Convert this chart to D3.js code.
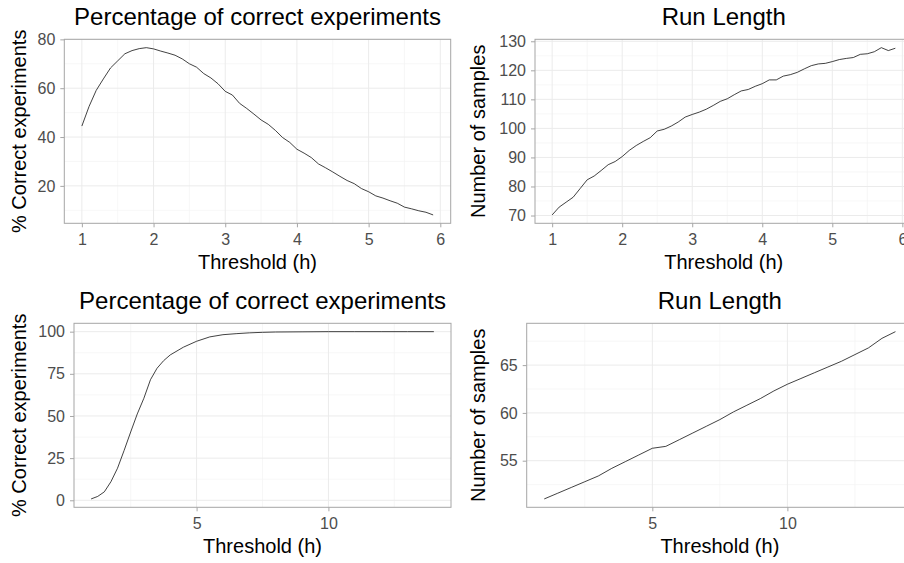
<!DOCTYPE html>
<html>
<head>
<meta charset="utf-8">
<script src="https://cdn.jsdelivr.net/npm/d3@7"></script>
<style>
  html, body { margin: 0; padding: 0; background: #fff; }
  svg { display: block; overflow: hidden; }
  text { font-family: "Liberation Sans", Arial, Helvetica, sans-serif; }
</style>
</head>
<body>
<svg id="chart" width="904" height="563"></svg>
<script>
// ---------------- DATA ----------------
const titleCorrect = "Percentage of correct experiments";
const titleRun = "Run Length";
const xLabel = "Threshold (h)";
const yLabelCorrect = "% Correct experiments";
const yLabelRun = "Number of samples";

// Top row: thresholds 1.0 .. 5.9
const thresholdTop = [1.0,1.1,1.2,1.3,1.4,1.5,1.6,1.7,1.8,1.9,2.0,2.1,2.2,2.3,2.4,2.5,2.6,2.7,2.8,2.9,
  3.0,3.1,3.2,3.3,3.4,3.5,3.6,3.7,3.8,3.9,4.0,4.1,4.2,4.3,4.4,4.5,4.6,4.7,4.8,4.9,
  5.0,5.1,5.2,5.3,5.4,5.5,5.6,5.7,5.8,5.9];
const correctTop = [44.5,52.5,59.1,63.8,68.3,71.2,74.1,75.4,76.2,76.6,76.1,75.2,74.4,73.5,72.0,70.0,68.6,66.0,64.2,61.8,
  58.7,57.2,53.8,51.7,49.4,47.0,45.2,42.7,39.8,37.8,35.0,33.4,31.6,29.0,27.4,25.7,23.9,22.2,20.9,18.9,
  17.6,15.9,15.0,13.9,12.9,11.3,10.6,9.8,9.2,8.1];
const runTop = [70.2,72.9,74.6,76.3,79.3,82.3,83.6,85.5,87.5,88.6,90.3,92.4,94.1,95.5,96.8,99.1,99.7,100.8,102.2,103.9,
  104.8,105.6,106.6,107.9,109.3,110.2,111.6,112.9,113.4,114.5,115.4,116.7,116.7,118.0,118.5,119.3,120.5,121.6,122.2,122.4,
  123.0,123.7,124.1,124.4,125.5,125.7,126.4,127.8,126.8,127.6];

// Bottom row: thresholds 1 .. 14
const thresholdCorrectBottom = [1,1.25,1.5,1.75,2,2.25,2.5,2.75,3,3.25,3.5,3.75,4,4.5,5,5.5,6,6.5,7,7.5,8,9,10,11,12,13,14];
const correctBottom = [0.8,2.3,5.0,11.0,19.0,29.5,40.5,51.2,60.5,71.5,78.3,82.8,86.2,90.8,94.3,96.9,98.2,98.8,99.3,99.6,99.8,99.9,100,100,100,100,100];
const thresholdRunBottom = [1,1.5,2,2.5,3,3.5,4,4.5,5,5.5,6,6.5,7,7.5,8,8.5,9,9.5,10,10.5,11,11.5,12,12.5,13,13.5,14];
const runBottom = [51.0,51.6,52.2,52.8,53.4,54.2,54.9,55.6,56.3,56.5,57.2,57.9,58.6,59.3,60.1,60.8,61.5,62.3,63.0,63.6,64.2,64.8,65.4,66.1,66.8,67.8,68.5];

// Tick values
const xTicksTop = [1,2,3,4,5,6];
const xTicksBottom = [5,10];
const yTicksCorrectTop = [20,40,60,80];
const yTicksRunTop = [70,80,90,100,110,120,130];
const yTicksCorrectBottom = [0,25,50,75,100];
const yTicksRunBottom = [55,60,65];

// ---------------- DRAWING ----------------
const svg = d3.select("#chart");

function expand(ext) {
  const pad = (ext[1] - ext[0]) * 0.05;
  return [ext[0] - pad, ext[1] + pad];
}
function minorOf(ticks, domain) {
  const step = ticks.length > 1 ? ticks[1] - ticks[0] : 1;
  const out = [];
  for (let v = ticks[0] - step / 2; v <= domain[1]; v += step) {
    if (v >= domain[0]) out.push(v);
  }
  return out;
}

function panel(cfg) {
  const { box, xs, ys, xTicks, yTicks, title, yLab } = cfg;
  const xDom = expand(d3.extent(xs));
  const yDom = expand(d3.extent(ys));
  const x = d3.scaleLinear().domain(xDom).range([box.left, box.right]);
  const y = d3.scaleLinear().domain(yDom).range([box.bottom, box.top]);
  const g = svg.append("g");

  // minor grid
  const xMinor = minorOf(xTicks, xDom), yMinor = minorOf(yTicks, yDom);
  g.selectAll(".xmin").data(xMinor).enter().append("line")
    .attr("x1", d => x(d)).attr("x2", d => x(d)).attr("y1", box.top).attr("y2", box.bottom)
    .attr("stroke", "#F3F3F3").attr("stroke-width", 0.7);
  g.selectAll(".ymin").data(yMinor).enter().append("line")
    .attr("x1", box.left).attr("x2", box.right).attr("y1", d => y(d)).attr("y2", d => y(d))
    .attr("stroke", "#F3F3F3").attr("stroke-width", 0.7);
  // major grid
  g.selectAll(".xmaj").data(xTicks).enter().append("line")
    .attr("x1", d => x(d)).attr("x2", d => x(d)).attr("y1", box.top).attr("y2", box.bottom)
    .attr("stroke", "#EBEBEB").attr("stroke-width", 1);
  g.selectAll(".ymaj").data(yTicks).enter().append("line")
    .attr("x1", box.left).attr("x2", box.right).attr("y1", d => y(d)).attr("y2", d => y(d))
    .attr("stroke", "#EBEBEB").attr("stroke-width", 1);

  // line
  const pts = xs.map((v, i) => [v, ys[i]]);
  g.append("path").datum(pts)
    .attr("fill", "none").attr("stroke", "#111").attr("stroke-width", 0.8)
    .attr("d", d3.line().x(d => x(d[0])).y(d => y(d[1])));

  // border
  g.append("rect")
    .attr("x", box.left).attr("y", box.top)
    .attr("width", box.right - box.left).attr("height", box.bottom - box.top)
    .attr("fill", "none").attr("stroke", "#A6A6A6").attr("stroke-width", 1);

  // axes
  const ax = g.append("g").attr("transform", `translate(0,${box.bottom})`)
    .call(d3.axisBottom(x).tickValues(xTicks).tickSize(4).tickPadding(6).tickFormat(d3.format("d")));
  const ay = g.append("g").attr("transform", `translate(${box.left},0)`)
    .call(d3.axisLeft(y).tickValues(yTicks).tickSize(4).tickPadding(5).tickFormat(d3.format("d")));
  [ax, ay].forEach(a => {
    a.select(".domain").remove();
    a.selectAll(".tick line").attr("stroke", "#A6A6A6");
    a.selectAll(".tick text").attr("fill", "#4D4D4D").style("font-size", "16px")
      .style("font-family", '"Liberation Sans", Arial, sans-serif');
  });

  const cx = (box.left + box.right) / 2, cy = (box.top + box.bottom) / 2;
  g.append("text").attr("x", cx).attr("y", box.top - 14.3)
    .attr("text-anchor", "middle").style("font-size", "24px").attr("fill", "#000").text(title);
  g.append("text").attr("x", cx).attr("y", box.bottom + 46)
    .attr("text-anchor", "middle").style("font-size", "20px").attr("fill", "#000").text(xLabel);
  g.append("text").attr("transform", `translate(${box.yLabX},${cy}) rotate(-90)`)
    .attr("text-anchor", "middle").style("font-size", "20px").attr("fill", "#000").text(yLab);
}

panel({ box: { left: 64.3, right: 450.7, top: 39.3, bottom: 223.3, yLabX: 26 },
  xs: thresholdTop, ys: correctTop, xTicks: xTicksTop, yTicks: yTicksCorrectTop,
  title: titleCorrect, yLab: yLabelCorrect });
panel({ box: { left: 535, right: 912.5, top: 39.3, bottom: 223.3, yLabX: 485 },
  xs: thresholdTop, ys: runTop, xTicks: xTicksTop, yTicks: yTicksRunTop,
  title: titleRun, yLab: yLabelRun });
panel({ box: { left: 74, right: 451, top: 323.3, bottom: 507.3, yLabX: 26 },
  xs: thresholdCorrectBottom, ys: correctBottom, xTicks: xTicksBottom, yTicks: yTicksCorrectBottom,
  title: titleCorrect, yLab: yLabelCorrect });
panel({ box: { left: 526.7, right: 913, top: 323.3, bottom: 507.3, yLabX: 485 },
  xs: thresholdRunBottom, ys: runBottom, xTicks: xTicksBottom, yTicks: yTicksRunBottom,
  title: titleRun, yLab: yLabelRun });
</script>
</body>
</html>
